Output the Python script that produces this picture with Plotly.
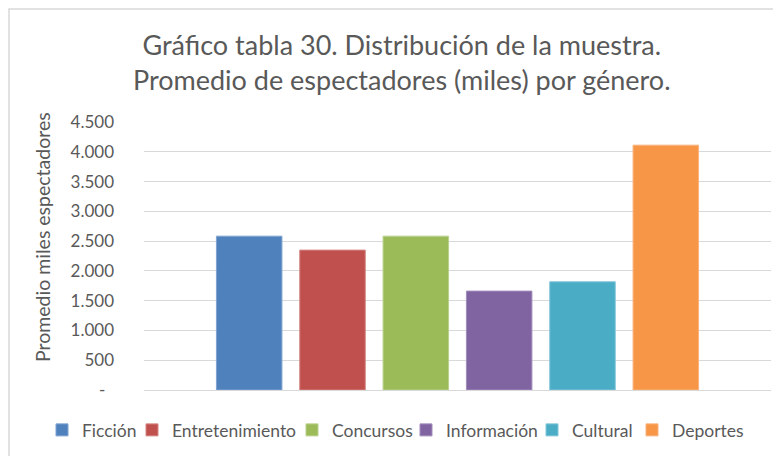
import plotly.graph_objects as go

generos = ["Ficción", "Entretenimiento", "Concursos", "Información", "Cultural", "Deportes"]
promedios = [2583, 2349, 2583, 1661, 1817, 4111]
colores = ["#4F81BD", "#C0504D", "#9BBB59", "#8064A2", "#4BACC6", "#F79646"]
bordes = ["#7FA3D1", "#D48684", "#B9D08C", "#A28DBB", "#82C6D8", "#F9B47F"]
tick_vals = [0, 500, 1000, 1500, 2000, 2500, 3000, 3500, 4000, 4500]
tick_text = ["-\u00a0\u00a0", "500", "1.000", "1.500", "2.000", "2.500", "3.000", "3.500", "4.000", "4.500"]
categoria = [""]

# the page body has an 8px margin; lay out in window pixels and shift
O = 8
W, H = 781 - O, 456 - O
L, R, T, B = 144 - O, 10, 122 - O, 456 - 390
pw, ph = W - L - R, H - T - B

FONT = "Lato"
GRAY = "#595959"

# left edge of each legend entry's text (window px)
legend_text_x = [82, 172, 332, 446, 572, 672]

fig = go.Figure()
for i, (g, v, c, bc) in enumerate(zip(generos, promedios, colores, bordes)):
    fig.add_trace(go.Bar(name=g, x=categoria, y=[v], legend="legend" if i == 0 else f"legend{i+1}",
                         marker=dict(color=c, line=dict(color=bc, width=1))))

def px(x):
    return (x - O - L) / pw

def py(y):
    return (H - B - (y - O)) / ph

legends = {}
for i, tx in enumerate(legend_text_x):
    key = "legend" if i == 0 else f"legend{i+1}"
    legends[key] = dict(orientation="h", xref="container", yref="container",
                        x=(tx - O - 40) / W, xanchor="left", y=1 - (430 - O) / H, yanchor="middle",
                        font=dict(family=FONT, size=17.5, color=GRAY), itemwidth=30,
                        bgcolor="rgba(0,0,0,0)", borderwidth=0)

fig.update_layout(
    width=W, height=H,
    margin=dict(l=L, r=R, t=T, b=B, autoexpand=False),
    paper_bgcolor="white", plot_bgcolor="white",
    barmode="group", bargap=0.2026, bargroupgap=0.214,
    font=dict(family=FONT, color=GRAY, size=15),
    showlegend=True,
    annotations=[
        dict(text="Gráfico tabla 30. Distribución de la muestra.<br>Promedio de espectadores (miles) por género.",
             x=px(402), y=py(62), xref="paper", yref="paper", xanchor="center", yanchor="middle",
             showarrow=False, font=dict(family=FONT, size=27, color=GRAY)),
        dict(text="Promedio miles espectadores", textangle=-90,
             x=px(42), y=py(237), xref="paper", yref="paper", xanchor="center", yanchor="middle",
             showarrow=False, font=dict(family=FONT, size=19.5, color=GRAY)),
    ],
    shapes=[
        dict(type="rect", xref="paper", yref="paper", x0=px(9), x1=px(800), y0=py(470), y1=py(9),
             line=dict(color="#D9D9D9", width=1.5), fillcolor="rgba(0,0,0,0)", layer="below"),
    ],
    **legends,
)
fig.update_xaxes(showticklabels=False, showgrid=False, showline=True, linecolor="#D9D9D9", linewidth=1, ticks="")
fig.update_yaxes(range=[0, 4500], tickvals=tick_vals, ticktext=tick_text, showgrid=True, gridcolor="#D9D9D9",
                 gridwidth=1, zeroline=False, showline=False, ticks="", ticklabelstandoff=29,
                 tickfont=dict(family=FONT, size=17, color=GRAY))

fig.write_html("out.html")
